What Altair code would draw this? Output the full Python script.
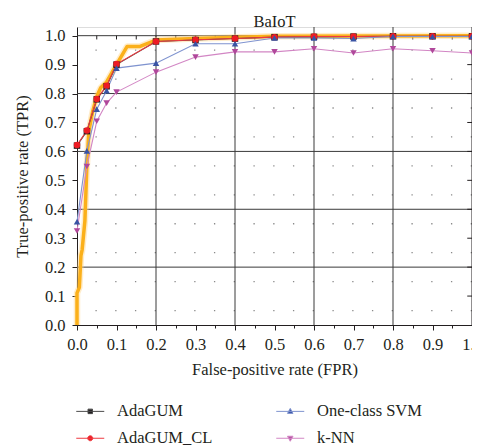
import altair as alt
import pandas as pd

# ---- data ----
fpr = [0.0, 0.025, 0.05, 0.075, 0.1, 0.2, 0.3, 0.4, 0.5, 0.6, 0.7, 0.8, 0.9, 1.0]
tpr_adagum = [0.62, 0.67, 0.78, 0.825, 0.90, 0.98, 0.985, 0.99, 0.995, 0.996, 0.997, 0.998, 0.998, 0.998]
tpr_adagum_cl = [0.622, 0.672, 0.781, 0.827, 0.902, 0.98, 0.986, 0.99, 0.995, 0.997, 0.997, 0.998, 0.998, 0.998]
tpr_svm = [0.357, 0.602, 0.746, 0.81, 0.888, 0.905, 0.972, 0.972, 0.992, 0.992, 0.99, 0.997, 0.997, 0.997]
tpr_knn = [0.325, 0.548, 0.704, 0.767, 0.805, 0.874, 0.926, 0.944, 0.944, 0.955, 0.94, 0.955, 0.948, 0.94]

# highlighted (orange) ROC curve
orange_fpr = [0.0, 0.0, 0.006, 0.01, 0.013, 0.02, 0.025, 0.03, 0.04, 0.05, 0.06, 0.075, 0.1, 0.127, 0.16, 0.2, 0.3, 0.5, 1.0]
orange_tpr = [0.0, 0.11, 0.13, 0.24, 0.26, 0.36, 0.55, 0.67, 0.74, 0.79, 0.82, 0.84, 0.90, 0.963, 0.963, 0.985, 0.99, 0.998, 1.0]

series_names = ["AdaGUM", "AdaGUM_CL", "One-class SVM", "k-NN"]
marker_colors = {"AdaGUM": "#231f20", "AdaGUM_CL": "#ed1c24", "One-class SVM": "#3953a4", "k-NN": "#b0479b"}
line_colors = {"AdaGUM": "#4a4a4a", "AdaGUM_CL": "#ee3a40", "One-class SVM": "#7f93cf", "k-NN": "#d286c4"}
marker_shapes = {"AdaGUM": "square", "AdaGUM_CL": "circle", "One-class SVM": "triangle-up", "k-NN": "triangle-down"}
legend_paths = {
    "AdaGUM": "M-5.6,0H5.6M-0.9,-0.9H0.9V0.9H-0.9Z",
    "AdaGUM_CL": "M-5.6,0H5.6M1,0A1,1,0,1,1,-1,0A1,1,0,1,1,1,0Z",
    "One-class SVM": "M-5.6,0H5.6M0,-1.2L1.1,0.8H-1.1Z",
    "k-NN": "M-5.6,0H5.6M0,1.2L1.1,-0.8H-1.1Z",
}

x_ticks = [0.0, 0.05, 0.1, 0.15, 0.2, 0.25, 0.3, 0.35, 0.4, 0.45, 0.5,
           0.55, 0.6, 0.65, 0.7, 0.75, 0.8, 0.85, 0.9, 0.95, 1.0]
y_ticks = [0.0, 0.1, 0.2, 0.3, 0.4, 0.5, 0.6, 0.7, 0.8, 0.9, 1.0]
major_grid_x = [0.2, 0.4, 0.6, 0.8]
major_grid_y = [0.2, 0.4, 0.6, 0.8, 1.0]
dotted_grid_y = [0.05, 0.15, 0.25, 0.35, 0.45, 0.55, 0.65, 0.75, 0.85, 0.95]
top_ticks = [0.05, 0.1, 0.15, 0.2, 0.25, 0.3, 0.35, 0.4, 0.45, 0.5, 0.55,
             0.6, 0.65, 0.7, 0.75, 0.8, 0.85, 0.9, 0.95]
right_ticks = [0.1, 0.2, 0.3, 0.4, 0.5, 0.6, 0.7, 0.8, 0.9]

FONT = "Liberation Serif"
INK = "#231f20"
FS = 16.5
W, H = 395, 298
YMAX = 1.03

rows = []
for name, vals in zip(series_names, [tpr_adagum, tpr_adagum_cl, tpr_svm, tpr_knn]):
    for xv, yv in zip(fpr, vals):
        rows.append({"fpr": xv, "tpr": yv, "series": name})
df = pd.DataFrame(rows)
df_orange = pd.DataFrame({"fpr": orange_fpr, "tpr": orange_tpr, "idx": list(range(len(orange_fpr)))})

xscale = alt.Scale(domain=[0, 1], nice=False, zero=False)
yscale = alt.Scale(domain=[0, YMAX], nice=False, zero=False)

major_test = "abs(datum.value*10 - round(datum.value*10)) < 0.001"
x_axis = alt.Axis(
    values=x_ticks,
    labelExpr=f"{major_test} ? format(datum.value, '.1f') : ''",
    tickSize={"condition": {"test": major_test, "value": 5}, "value": 3},
    labelFlush=False, labelOverlap=False, grid=False,
    domainColor=INK, tickColor=INK,
    labelFont=FONT, labelFontSize=FS, labelColor=INK, labelPadding=6,
    title="False-positive rate (FPR)", titleFont=FONT, titleFontSize=FS,
    titleFontWeight="normal", titleColor=INK, titlePadding=9,
)
y_axis = alt.Axis(
    values=y_ticks, format=".1f", tickSize=5, grid=False,
    labelFlush=False, labelOverlap=False,
    domainColor=INK, tickColor=INK,
    labelFont=FONT, labelFontSize=FS, labelColor=INK, labelPadding=7,
    title="True-positive rate (TPR)", titleFont=FONT, titleFontSize=FS,
    titleFontWeight="normal", titleColor=INK, titlePadding=14,
)

X = alt.X("fpr:Q", scale=xscale, axis=x_axis)
Y = alt.Y("tpr:Q", scale=yscale, axis=y_axis)

# grid layers
g_vert = alt.Chart(pd.DataFrame({"fpr": major_grid_x})).mark_rule(
    color="#3a3a3a", strokeWidth=1).encode(x=X)
g_hor = alt.Chart(pd.DataFrame({"tpr": major_grid_y})).mark_rule(
    color="#3a3a3a", strokeWidth=1).encode(y=Y)
g_dot = alt.Chart(pd.DataFrame({"tpr": dotted_grid_y})).mark_rule(
    color="#8a8a8a", strokeWidth=1.3, strokeDash=[1.3, 18.45]).encode(y=Y)
t_top = alt.Chart(pd.DataFrame({"fpr": top_ticks, "tpr": [1.0] * len(top_ticks),
                                "y2": [0.987] * len(top_ticks)})).mark_rule(
    color=INK, strokeWidth=1).encode(x=X, y=Y, y2="y2:Q")
t_right = alt.Chart(pd.DataFrame({"tpr": right_ticks, "fpr": [1.0] * len(right_ticks),
                                  "x2": [0.988] * len(right_ticks)})).mark_rule(
    color=INK, strokeWidth=1).encode(x=X, x2="x2:Q", y=Y)
right_line = alt.Chart(pd.DataFrame({"fpr": [1.0]})).mark_rule(
    color=INK, strokeWidth=1).encode(x=X)

# orange highlighted curve
orange_glow = alt.Chart(df_orange).mark_line(
    color="#ffd58a", strokeWidth=6.5, opacity=0.45, strokeJoin="round").encode(
    x=X, y=Y, order="idx:Q")
orange = alt.Chart(df_orange).mark_line(
    color="#fbb01a", strokeWidth=3.5, strokeJoin="round").encode(
    x=X, y=Y, order="idx:Q")

line_layers = []
point_layers = []
for name in series_names:
    sub = alt.Chart(df).transform_filter(alt.datum.series == name)
    line_layers.append(sub.mark_line(strokeWidth=1.1, color=line_colors[name]).encode(x=X, y=Y))
    point_layers.append(sub.mark_point(filled=True, size=42, opacity=1,
                                       shape=marker_shapes[name],
                                       color=marker_colors[name]).encode(x=X, y=Y))

# legend entries flow column by column
leg = alt.Legend(
    title=None, orient="none", legendX=5, legendY=376, columns=2,
    columnPadding=61, rowPadding=10, symbolSize=25, symbolStrokeWidth=1,
    symbolOpacity=1, labelOffset=18.5, labelFont=FONT, labelFontSize=FS,
    labelColor=INK, padding=0, labelLimit=200,
)
legend_layer = alt.Chart(df).mark_point(filled=True, opacity=0).encode(
    x=X, y=Y,
    fill=alt.Fill("series:N", scale=alt.Scale(domain=series_names,
                  range=[marker_colors[n] for n in series_names]), legend=leg),
    stroke=alt.Stroke("series:N", scale=alt.Scale(domain=series_names,
                      range=[line_colors[n] for n in series_names]), legend=leg),
    shape=alt.Shape("series:N", scale=alt.Scale(domain=series_names,
                    range=[legend_paths[n] for n in series_names]), legend=leg),
)

chart = alt.layer(
    g_dot, g_vert, g_hor, t_top, t_right, right_line,
    orange_glow, orange, *line_layers, *point_layers, legend_layer,
).properties(
    width=W, height=H,
    padding={"left": 69, "top": 19, "right": 0, "bottom": 121},
    autosize="none",
    title=alt.TitleParams("BaIoT", font=FONT, fontSize=FS, fontWeight="normal",
                          color=INK, anchor="middle", offset=1, baseline="alphabetic", dy=18),
).configure_view(stroke=None).configure(background="white").configure_axis(labelOverlap=False)

chart.save("out.html", embed_options={"renderer": "svg", "actions": False})
